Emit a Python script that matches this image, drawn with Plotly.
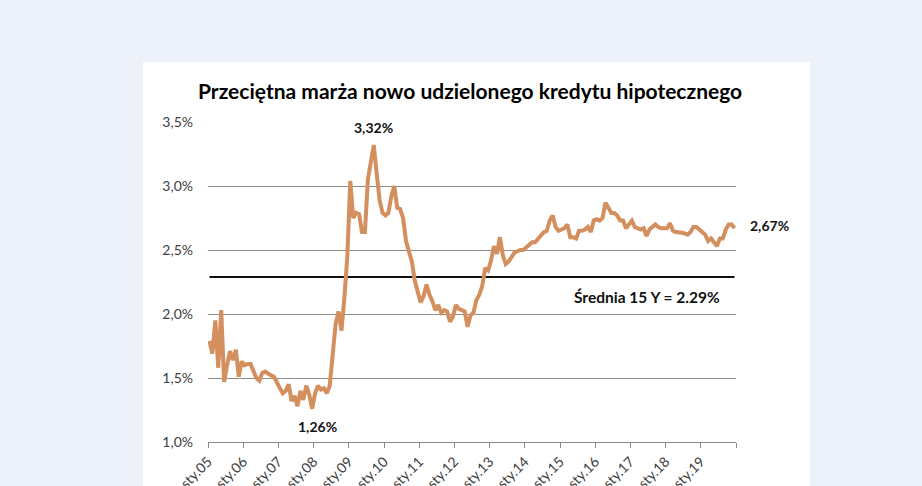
import plotly.graph_objects as go

# Monthly average margin (%) Jan 2005 - Dec 2019
marza = [
    1.79, 1.69, 1.95, 1.58, 2.03, 1.47, 1.60, 1.71, 1.64, 1.72, 1.51, 1.63,  # 2005
    1.60, 1.61, 1.61, 1.56, 1.50, 1.48, 1.54, 1.55, 1.53, 1.52, 1.51, 1.46,  # 2006
    1.42, 1.38, 1.40, 1.45, 1.32, 1.36, 1.28, 1.40, 1.33, 1.44, 1.37, 1.26,  # 2007
    1.38, 1.44, 1.41, 1.42, 1.38, 1.44, 1.66, 1.92, 2.02, 1.87, 2.13, 2.45,  # 2008
    3.04, 2.75, 2.79, 2.78, 2.64, 2.64, 3.05, 3.18, 3.32, 3.10, 2.89, 2.79,  # 2009
    2.77, 2.79, 2.92, 3.00, 2.83, 2.82, 2.75, 2.57, 2.50, 2.41, 2.26, 2.16,  # 2010
    2.09, 2.14, 2.23, 2.15, 2.10, 2.03, 2.07, 2.01, 2.03, 2.02, 1.94, 1.98,  # 2011
    2.07, 2.04, 2.03, 2.02, 1.90, 1.99, 2.01, 2.11, 2.15, 2.22, 2.36, 2.34,  # 2012
    2.42, 2.53, 2.47, 2.60, 2.46, 2.39, 2.41, 2.45, 2.48, 2.49, 2.50, 2.50,  # 2013
    2.52, 2.53, 2.56, 2.56, 2.59, 2.62, 2.64, 2.65, 2.73, 2.77, 2.68, 2.65,  # 2014
    2.66, 2.67, 2.70, 2.60, 2.60, 2.59, 2.65, 2.65, 2.66, 2.68, 2.64, 2.73,  # 2015
    2.74, 2.73, 2.75, 2.87, 2.83, 2.79, 2.79, 2.77, 2.73, 2.73, 2.67, 2.70,  # 2016
    2.73, 2.68, 2.67, 2.66, 2.67, 2.61, 2.66, 2.68, 2.70, 2.68, 2.67, 2.67,  # 2017
    2.67, 2.71, 2.65, 2.64, 2.64, 2.635, 2.63, 2.62, 2.64, 2.68, 2.68, 2.66, # 2018
    2.64, 2.62, 2.57, 2.59, 2.56, 2.53, 2.59, 2.59, 2.66, 2.70, 2.70, 2.67,  # 2019
]
srednia = 2.29
year_labels = ["sty.05", "sty.06", "sty.07", "sty.08", "sty.09", "sty.10", "sty.11",
               "sty.12", "sty.13", "sty.14", "sty.15", "sty.16", "sty.17", "sty.18",
               "sty.19", ""]
y_ticks = [1.0, 1.5, 2.0, 2.5, 3.0, 3.5]
y_labels = ["1,0%", "1,5%", "2,0%", "2,5%", "3,0%", "3,5%"]
title = "Przeciętna marża nowo udzielonego kredytu hipotecznego"

n = len(marza)
x = list(range(n))
tick_pos = [12 * k - 0.5 for k in range(len(year_labels))]

i_max = marza.index(max(marza))
i_min = marza.index(min(marza))

fig = go.Figure()
fig.add_trace(go.Scatter(x=x, y=[srednia] * n, mode="lines",
                         line=dict(color="#111111", width=2), hoverinfo="skip"))
fig.add_trace(go.Scatter(x=x, y=marza, mode="lines",
                         line=dict(color="#D48F5F", width=4)))

FONT = "Lato, 'Open Sans', sans-serif"
bold = dict(family=FONT, size=14, color="#111111")

fig.add_annotation(x=i_max, y=marza[i_max], text="<b>3,32%</b>", showarrow=False,
                   yanchor="bottom", yshift=7, font=bold)
fig.add_annotation(x=i_min, y=marza[i_min], text="<b>1,26%</b>", showarrow=False,
                   yanchor="top", yshift=-7, xshift=5, font=bold)
fig.add_annotation(x=n - 1, y=marza[-1], text="<b>2,67%</b>", showarrow=False,
                   xanchor="left", xshift=13, yshift=3, font=bold)
fig.add_annotation(x=149, y=srednia, text="<b>Średnia 15 Y = 2.29%</b>", showarrow=False,
                   yanchor="top", yshift=-9, font=dict(family=FONT, size=15.5, color="#111111"))
fig.add_annotation(xref="paper", yref="paper", x=0.497, y=(442 - 91) / 320,
                   yanchor="middle", text="<b>" + title + "</b>", showarrow=False,
                   font=dict(family=FONT, size=21, color="#000000"))

# white card behind the chart
fig.add_shape(type="rect", xref="paper", yref="paper",
              x0=-65 / 528, x1=602 / 528, y0=-0.3, y1=380 / 320,
              fillcolor="white", line=dict(width=0), layer="below")

fig.update_layout(
    width=922, height=486,
    margin=dict(l=208, r=186, t=122, b=44),
    paper_bgcolor="#EDF1F9", plot_bgcolor="white",
    showlegend=False,
    font=dict(family=FONT, size=14, color="#404040"),
)
fig.update_xaxes(
    range=[-0.5, n - 0.5], tickmode="array", tickvals=tick_pos, ticktext=year_labels,
    tickangle=-45, ticks="outside", ticklen=5, tickcolor="#888888",
    showline=True, linecolor="#888888", linewidth=1, showgrid=False, zeroline=False,
    automargin=False, tickfont=dict(size=14, color="#404040"),
)
fig.update_yaxes(
    range=[1.0, 3.5], tickmode="array", tickvals=y_ticks, ticktext=y_labels,
    showgrid=True, gridcolor="#8C8C8C", gridwidth=1, zeroline=False,
    showline=False, ticks="", ticklabelstandoff=14, automargin=False,
    tickfont=dict(size=14, color="#404040"),
)

fig.write_html("out.html")
